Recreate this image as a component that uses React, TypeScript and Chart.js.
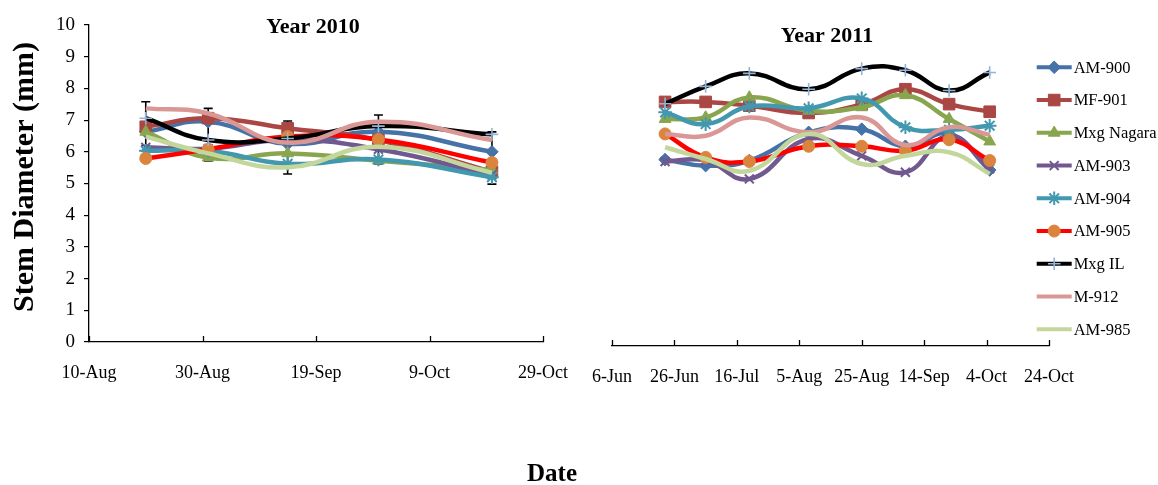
import React, { useEffect, useRef } from 'react';
import { Chart, registerables } from 'chart.js';
import { drawPoint } from 'chart.js/helpers';

Chart.register(...registerables);

const SERIF = "'Times New Roman', 'Liberation Serif', serif";

// Varieties in legend order
const varieties = ['AM-900', 'MF-901', 'Mxg Nagara', 'AM-903', 'AM-904', 'AM-905', 'Mxg IL', 'M-912', 'AM-985'];

// ---- 2010 season ----
const axisStart2010 = '2010-08-10';
const axisEnd2010 = '2010-10-29';
const axisTicks2010 = ['10-Aug', '30-Aug', '19-Sep', '9-Oct', '29-Oct'];
const dates2010 = ['2010-08-20', '2010-08-31', '2010-09-14', '2010-09-30', '2010-10-20'];
const am900_2010 = [6.63, 6.95, 6.25, 6.63, 6.0];
const mf901_2010 = [6.79, 7.06, 6.74, 6.37, 5.37];
const nagara_2010 = [6.63, 5.82, 5.95, 5.72, 5.43];
const am903_2010 = [6.14, 6.1, 6.37, 6.08, 5.27];
const am904_2010 = [6.03, 6.03, 5.62, 5.76, 5.2];
const am905_2010 = [5.79, 6.08, 6.48, 6.39, 5.66];
const mxgIL_2010 = [7.06, 6.37, 6.42, 6.81, 6.55];
const m912_2010 = [7.37, 7.21, 6.29, 6.95, 6.37];
const am985_2010 = [6.48, 5.95, 5.51, 6.16, 5.34];
// Error bar limits for the 2010 sampling dates
const errHigh2010 = [7.58, 7.37, 6.97, 7.16, 6.63];
const errLow2010 = [6.2, 5.71, 5.3, 5.62, 4.98];

// ---- 2011 season ----
const axisStart2011 = '2011-06-06';
const axisEnd2011 = '2011-10-24';
const axisTicks2011 = ['6-Jun', '26-Jun', '16-Jul', '5-Aug', '25-Aug', '14-Sep', '4-Oct', '24-Oct'];
const dates2011 = ['2011-06-23', '2011-07-06', '2011-07-20', '2011-08-08', '2011-08-25', '2011-09-08', '2011-09-22', '2011-10-05'];
const am900_2011 = [5.88, 5.69, 5.85, 6.74, 6.84, 6.3, 6.69, 5.55];
const mf901_2011 = [7.7, 7.7, 7.58, 7.35, 7.62, 8.1, 7.63, 7.39];
const nagara_2011 = [7.16, 7.21, 7.84, 7.42, 7.53, 7.91, 7.16, 6.45];
const am903_2011 = [5.82, 5.85, 5.27, 6.53, 6.0, 5.48, 6.63, 5.59];
const am904_2011 = [7.37, 7.0, 7.56, 7.5, 7.81, 6.9, 6.82, 6.95];
const am905_2011 = [6.69, 5.95, 5.82, 6.3, 6.3, 6.16, 6.51, 5.85];
const mxgIL_2011 = [7.64, 8.19, 8.6, 8.1, 8.75, 8.7, 8.06, 8.63];
const m912_2011 = [6.69, 6.63, 7.21, 6.74, 7.21, 6.34, 6.9, 6.66];
const am985_2011 = [6.27, 5.9, 5.53, 6.69, 5.74, 6.0, 6.11, 5.43];

// Series styling
const lineColors = ['#4572A7', '#AA4643', '#89A54E', '#71588F', '#4198AF', '#FF0000', '#000000', '#D99795', '#C3D69B'];
const markerColors = ['#4572A7', '#AA4643', '#89A54E', '#71588F', '#4198AF', '#DB843D', '#95B3D7', '#D99795', '#C3D69B'];
const markerStyles: (string | null)[] = ['rectRot', 'rect', 'triangle', 'crossRot', 'star', 'circle', 'cross', null, null];
const markerRadii = [6.3, 8.2, 6.8, 6.3, 6.8, 6, 6.3, 0, 0];
const markerBorders = [1, 1, 1, 2, 2, 1, 1.6, 0, 0];

const DAY = 86400000;
const dayOffset = (d: string, start: string) => (Date.parse(d) - Date.parse(start)) / DAY;

function buildDatasets(dates: string[], start: string, values: number[][]) {
  return varieties.map((name, i) => ({
    label: name,
    data: values[i].map((v, k) => ({ x: dayOffset(dates[k], start), y: v })),
    borderColor: lineColors[i],
    backgroundColor: markerColors[i],
    pointBackgroundColor: markerColors[i],
    pointBorderColor: markerColors[i],
    pointStyle: markerStyles[i] || 'circle',
    pointRadius: markerStyles[i] ? markerRadii[i] : 0,
    pointHoverRadius: markerStyles[i] ? markerRadii[i] : 0,
    pointBorderWidth: markerBorders[i],
    borderWidth: 4.5,
    tension: 0.45,
    fill: false,
    order: varieties.length - 1 - i,
  }));
}

// Tick marks on the date axis point up into the plot
const innerTicks = {
  id: 'innerTicks',
  afterDraw(chart: any) {
    const xs = chart.scales.x;
    const ctx = chart.ctx;
    ctx.save();
    ctx.strokeStyle = '#000';
    ctx.lineWidth = 1.3;
    xs.ticks.forEach((t: any) => {
      const px = Math.round(xs.getPixelForValue(t.value)) + 0.5;
      ctx.beginPath();
      ctx.moveTo(px, xs.top);
      ctx.lineTo(px, xs.top - 6);
      ctx.stroke();
    });
    ctx.restore();
  },
};

function textLabel(id: string, text: string, x: number, y: number, font: string, rotation = 0) {
  return {
    id,
    afterDraw(chart: any) {
      const ctx = chart.ctx;
      ctx.save();
      ctx.font = font;
      ctx.fillStyle = '#000';
      ctx.textAlign = 'center';
      ctx.textBaseline = 'middle';
      ctx.translate(x, y);
      ctx.rotate(rotation);
      ctx.fillText(text, 0, 0);
      ctx.restore();
    },
  };
}

function errorBars(dates: string[], start: string, hi: number[], lo: number[]) {
  return {
    id: 'errorBars',
    beforeDatasetsDraw(chart: any) {
      const xs = chart.scales.x;
      const ys = chart.scales.y;
      const ctx = chart.ctx;
      ctx.save();
      ctx.strokeStyle = '#000';
      ctx.lineWidth = 1.6;
      dates.forEach((d, k) => {
        const px = xs.getPixelForValue(dayOffset(d, start));
        const top = ys.getPixelForValue(hi[k]);
        const bot = ys.getPixelForValue(lo[k]);
        ctx.beginPath();
        ctx.moveTo(px, top);
        ctx.lineTo(px, bot);
        ctx.moveTo(px - 4.5, top);
        ctx.lineTo(px + 4.5, top);
        ctx.moveTo(px - 4.5, bot);
        ctx.lineTo(px + 4.5, bot);
        ctx.stroke();
      });
      ctx.restore();
    },
  };
}

// Legend: a short line with the series marker in its middle
function sideLegend(x0: number, y0: number, step: number) {
  return {
    id: 'sideLegend',
    afterDraw(chart: any) {
      const ctx = chart.ctx;
      ctx.save();
      varieties.forEach((name, i) => {
        const y = y0 + i * step;
        ctx.strokeStyle = lineColors[i];
        ctx.lineWidth = 4;
        ctx.beginPath();
        ctx.moveTo(x0, y);
        ctx.lineTo(x0 + 35, y);
        ctx.stroke();
        const style = markerStyles[i];
        if (style) {
          ctx.fillStyle = markerColors[i];
          ctx.strokeStyle = markerColors[i];
          ctx.lineWidth = markerBorders[i];
          drawPoint(ctx, { pointStyle: style as any, rotation: 0, radius: markerRadii[i], borderWidth: markerBorders[i] }, x0 + 17.5, y);
        }
        ctx.fillStyle = '#000';
        ctx.font = `16.5px ${SERIF}`;
        ctx.textAlign = 'left';
        ctx.textBaseline = 'middle';
        ctx.fillText(name, x0 + 37, y + 1);
      });
      ctx.restore();
    },
  };
}

const xTickFont = { family: SERIF, size: 18 };
const yTickFont = { family: SERIF, size: 19 };

function Panel2010() {
  const ref = useRef<HTMLCanvasElement>(null);
  useEffect(() => {
    const values = [am900_2010, mf901_2010, nagara_2010, am903_2010, am904_2010, am905_2010, mxgIL_2010, m912_2010, am985_2010];
    const chart = new Chart(ref.current as HTMLCanvasElement, {
      type: 'line',
      data: { datasets: buildDatasets(dates2010, axisStart2010, values) as any },
      options: {
        animation: false,
        responsive: false,
        devicePixelRatio: 1,
        layout: { padding: { left: 0, top: 25, right: 35, bottom: 0 } },
        plugins: { legend: { display: false }, tooltip: { enabled: false } },
        scales: {
          x: {
            type: 'linear',
            min: 0,
            max: dayOffset(axisEnd2010, axisStart2010),
            ticks: {
              stepSize: 20,
              autoSkip: false,
              maxRotation: 0,
              padding: 12,
              color: '#000',
              font: xTickFont,
              callback: (_v: any, i: number) => axisTicks2010[i],
            },
            grid: { display: false },
            border: { display: true, color: '#000', width: 1.3 },
            afterFit: (s: any) => { s.height = 485 - 342; },
          },
          y: {
            min: 0,
            max: 10,
            ticks: { stepSize: 1, padding: 9, color: '#000', font: yTickFont },
            grid: { display: true, drawOnChartArea: false, drawTicks: true, tickLength: 5, color: '#000', lineWidth: 1.2 },
            border: { display: true, color: '#000', width: 1.3 },
            afterFit: (s: any) => { s.width = 89; },
          },
        },
      },
      plugins: [
        errorBars(dates2010, axisStart2010, errHigh2010, errLow2010),
        innerTicks,
        textLabel('panelTitle', 'Year 2010', 313, 27, `bold 22px ${SERIF}`),
        textLabel('axisTitle', 'Stem Diameter (mm)', 25, 177, `bold 30px ${SERIF}`, -Math.PI / 2),
      ],
    });
    return () => chart.destroy();
  }, []);
  return <canvas ref={ref} width={580} height={485} style={{ position: 'absolute', left: 0, top: 0 }} />;
}

function Panel2011() {
  const ref = useRef<HTMLCanvasElement>(null);
  useEffect(() => {
    const values = [am900_2011, mf901_2011, nagara_2011, am903_2011, am904_2011, am905_2011, mxgIL_2011, m912_2011, am985_2011];
    const chart = new Chart(ref.current as HTMLCanvasElement, {
      type: 'line',
      data: { datasets: buildDatasets(dates2011, axisStart2011, values) as any },
      options: {
        animation: false,
        responsive: false,
        devicePixelRatio: 1,
        layout: { padding: { left: 27, top: 29, right: 109, bottom: 0 } },
        plugins: { legend: { display: false }, tooltip: { enabled: false } },
        scales: {
          x: {
            type: 'linear',
            min: 0,
            max: dayOffset(axisEnd2011, axisStart2011),
            ticks: {
              stepSize: 20,
              autoSkip: false,
              maxRotation: 0,
              padding: 12,
              color: '#000',
              font: xTickFont,
              callback: (_v: any, i: number) => axisTicks2011[i],
            },
            grid: { display: false },
            border: { display: true, color: '#000', width: 1.3 },
            afterFit: (s: any) => { s.height = 485 - 346; },
          },
          y: { display: false, min: 0, max: 10 },
        },
      },
      plugins: [
        innerTicks,
        textLabel('panelTitle', 'Year 2011', 247, 36, `bold 22px ${SERIF}`),
        sideLegend(456.7, 67.3, 32.75),
      ],
    });
    return () => chart.destroy();
  }, []);
  return <canvas ref={ref} width={578} height={485} style={{ position: 'absolute', left: 580, top: 0 }} />;
}

export default function App() {
  return (
    <div style={{ position: 'absolute', left: 0, top: 0, width: 1158, height: 485, overflow: 'hidden', background: '#fff' }}>
      <Panel2010 />
      <Panel2011 />
      <div
        style={{
          position: 'absolute',
          left: 552,
          top: 460,
          transform: 'translateX(-50%)',
          fontFamily: SERIF,
          fontWeight: 'bold',
          fontSize: 25,
          lineHeight: '25px',
          color: '#000',
        }}
      >
        Date
      </div>
    </div>
  );
}
